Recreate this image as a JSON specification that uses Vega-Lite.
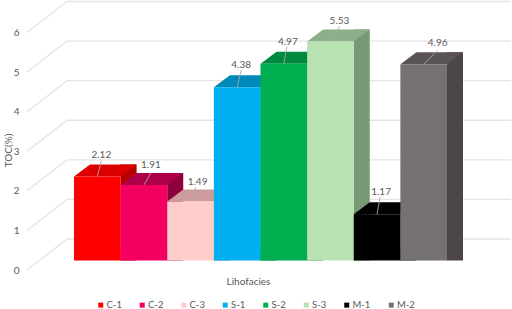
{
"$schema":"https://vega.github.io/schema/vega-lite/v6.json",
"width":512,"height":309,"padding":0,"autosize":{"type":"none"},
"background":"white",
"config":{"view":{"stroke":null},"font":"Lato","text":{"font":"Lato"}},
"datasets":{
"bars":[{"lith":"C-1","toc":2.12},{"lith":"C-2","toc":1.91},{"lith":"C-3","toc":1.49},{"lith":"S-1","toc":4.38},{"lith":"S-2","toc":4.97},{"lith":"S-3","toc":5.53},{"lith":"M-1","toc":1.17},{"lith":"M-2","toc":4.96}],
"ticks":[{"tick":0},{"tick":1},{"tick":2},{"tick":3},{"tick":4},{"tick":5},{"tick":6}]
},
"resolve":{"scale":{"color":"independent","shape":"independent"}},
"layer":[
{"data":{"name":"ticks"},"mark":{"type":"rule","color":"#E4E4E4","strokeWidth":1.3,"yOffset":-21.5},
 "encoding":{"x":{"value":67},"x2":{"value":511},
 "y":{"field":"tick","type":"quantitative","scale":{"domain":[0,6],"range":[260.5,23]},
  "axis":{"orient":"left","values":[0,1,2,3,4,5,6],"offset":-19,"domain":false,"ticks":false,"grid":false,"labelPadding":0,"labelOffset":9.5,"labelFontSize":10,"labelColor":"#595959","labelFont":"Lato","title":"TOC(%)","titleFont":"Lato","titleFontWeight":"normal","titleFontSize":10,"titleColor":"#595959","titleX":-6,"titleY":150}}}},
{"data":{"name":"ticks"},"mark":{"type":"point","filled":false,"shape":"M0,9.5 L40,-21.5","size":4,"stroke":"#E4E4E4","strokeWidth":1.3,"opacity":1},
 "encoding":{"x":{"value":27},"y":{"field":"tick","type":"quantitative"}}},
{"data":{"name":"bars"},"mark":{"type":"bar","width":16,"xOffset":31.3,"yOffset":-12},
 "encoding":{"x":{"field":"lith","type":"nominal","sort":null,"scale":{"domain":["C-1","C-2","C-3","S-1","S-2","S-3","M-1","M-2"],"range":[74,447],"paddingInner":0,"paddingOuter":0},
  "axis":{"title":"Lihofacies","labels":false,"ticks":false,"domain":false,"grid":false,"titleFont":"Lato","titleFontWeight":"normal","titleFontSize":10,"titleColor":"#595959","titleX":248,"titleY":-33}},
 "y":{"field":"toc","type":"quantitative"},"y2":{"datum":0},
 "color":{"field":"lith","type":"nominal","legend":null,"scale":{"domain":["C-1","C-2","C-3","S-1","S-2","S-3","M-1","M-2"],"range":["#B80000","#8C003C","#A88686","#007CA8","#007A38","#789876","#000000","#4C4646"]}}}},
{"data":{"name":"bars"},"mark":{"type":"point","filled":true,"shape":"M23.3,0 L23.3,-12 L39.3,-12 Z","size":4,"opacity":1,"strokeWidth":0},
 "encoding":{"x":{"field":"lith","type":"nominal","sort":null},"y":{"datum":0,"type":"quantitative"},
 "color":{"field":"lith","type":"nominal","legend":null,"scale":{"domain":["C-1","C-2","C-3","S-1","S-2","S-3","M-1","M-2"],"range":["#B80000","#8C003C","#A88686","#007CA8","#007A38","#789876","#000000","#4C4646"]}}}},
{"data":{"name":"bars"},"mark":{"type":"point","filled":true,"shape":"M-23.3,0 L23.3,0 L39.3,-12 L-7.3,-12 Z","size":4,"opacity":1,"strokeWidth":0},
 "encoding":{"x":{"field":"lith","type":"nominal","sort":null},"y":{"field":"toc","type":"quantitative"},
 "color":{"field":"lith","type":"nominal","legend":null,"scale":{"domain":["C-1","C-2","C-3","S-1","S-2","S-3","M-1","M-2"],"range":["#DC0000","#AE004A","#CC9C9C","#0088BA","#008A3E","#8CAE88","#000000","#5A5454"]}}}},
{"data":{"name":"bars"},"mark":{"type":"bar"},
 "encoding":{"x":{"field":"lith","type":"nominal","sort":null},"y":{"field":"toc","type":"quantitative"},"y2":{"datum":0},
 "color":{"field":"lith","type":"nominal","sort":null,"scale":{"domain":["C-1","C-2","C-3","S-1","S-2","S-3","M-1","M-2"],"range":["#FF0000","#F40062","#FFCCCC","#00B0F0","#00B050","#B9E2B3","#000000","#767171"]},
  "legend":{"title":null,"orient":"none","legendX":96,"legendY":300,"direction":"horizontal","columns":8,"symbolType":"square","symbolSize":25,"symbolStrokeWidth":0,"labelFont":"Lato","labelFontSize":9.5,"labelColor":"#595959","labelOffset":1,"columnPadding":15.5,"padding":0}}}},
{"data":{"name":"bars"},"mark":{"type":"point","filled":false,"size":4,"stroke":"#A6A6A6","strokeWidth":0.9,"opacity":1},
 "encoding":{"x":{"field":"lith","type":"nominal","sort":null},"y":{"field":"toc","type":"quantitative"},
 "shape":{"field":"lith","type":"nominal","legend":null,"scale":{"domain":["C-1","C-2","C-3","S-1","S-2","S-3","M-1","M-2"],"range":["M0,0 L4,-16","M0,0 L7,-12","M2,-4 L5,-14","M0,0 L4,-17","M0,0 L3,-17","M0,0 L9,-15","M0,0 L3,-17","M0,0 L14,-14"]}}}},
{"data":{"name":"bars"},"transform":[{"filter":{"field":"lith","oneOf":["C-1","S-1","S-2","M-1"]}}],"mark":{"type":"text","dx":4,"dy":-22,"fontSize":10,"color":"#595959"},
 "encoding":{"x":{"field":"lith","type":"nominal","sort":null},"y":{"field":"toc","type":"quantitative"},"text":{"field":"toc","type":"quantitative","format":".2f"}}},
{"data":{"name":"bars"},"transform":[{"filter":{"field":"lith","oneOf":["C-2","C-3"]}}],"mark":{"type":"text","dx":7,"dy":-20,"fontSize":10,"color":"#595959"},
 "encoding":{"x":{"field":"lith","type":"nominal","sort":null},"y":{"field":"toc","type":"quantitative"},"text":{"field":"toc","type":"quantitative","format":".2f"}}},
{"data":{"name":"bars"},"transform":[{"filter":{"field":"lith","equal":"S-3"}}],"mark":{"type":"text","dx":9,"dy":-21,"fontSize":10,"color":"#595959"},
 "encoding":{"x":{"field":"lith","type":"nominal","sort":null},"y":{"field":"toc","type":"quantitative"},"text":{"field":"toc","type":"quantitative","format":".2f"}}},
{"data":{"name":"bars"},"transform":[{"filter":{"field":"lith","equal":"M-2"}}],"mark":{"type":"text","dx":14,"dy":-21,"fontSize":10,"color":"#595959"},
 "encoding":{"x":{"field":"lith","type":"nominal","sort":null},"y":{"field":"toc","type":"quantitative"},"text":{"field":"toc","type":"quantitative","format":".2f"}}}
]
}
